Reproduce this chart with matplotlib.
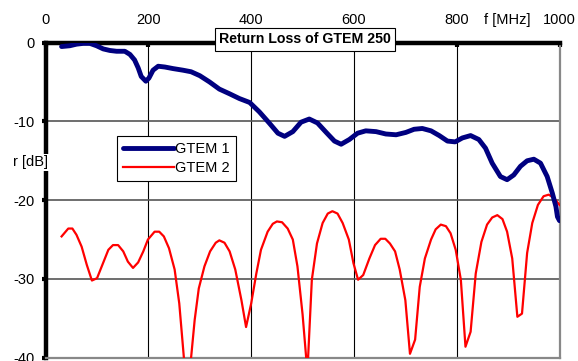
import matplotlib.pyplot as plt

plt.rcParams["font.family"] = ["Liberation Sans", "DejaVu Sans"]
plt.rcParams["axes.unicode_minus"] = False

# frequency [MHz] and return loss [dB]
f_gtem1 = [31, 47, 60, 73, 86, 99, 112, 125, 138, 154, 164, 173, 180, 186, 195,
           201, 209, 219, 232, 248, 267, 283, 300, 319, 338, 358, 377, 397, 416,
           435, 452, 465, 481, 497, 513, 529, 546, 562, 575, 591, 607, 623, 643,
           662, 682, 701, 717, 733, 750, 766, 782, 797, 811, 827, 843, 856, 869,
           885, 898, 911, 924, 937, 950, 963, 976, 986, 993, 996, 1000]
r_gtem1 = [-0.5, -0.4, -0.2, -0.1, -0.1, -0.4, -0.8, -1.0, -1.1, -1.1, -1.5,
           -2.2, -3.2, -4.3, -4.9, -4.5, -3.5, -3.0, -3.1, -3.3, -3.5, -3.7,
           -4.2, -5.0, -5.9, -6.5, -7.1, -7.6, -8.8, -10.2, -11.5, -11.9, -11.3,
           -10.1, -9.7, -10.2, -11.4, -12.5, -12.9, -12.3, -11.5, -11.2, -11.3,
           -11.6, -11.7, -11.4, -11.0, -10.9, -11.2, -11.8, -12.5, -12.6, -12.1,
           -11.8, -12.3, -13.4, -15.3, -17.0, -17.4, -16.8, -15.7, -15.0, -14.8,
           -15.3, -17.0, -19.1, -20.8, -22.1, -22.6]

f_gtem2 = [31, 44, 52, 60, 70, 80, 90, 100, 111, 122, 131, 141, 151, 160, 170,
           180, 190, 199, 212, 221, 230, 240, 251, 260, 269, 276, 283, 290, 298,
           309, 320, 331, 338, 348, 358, 369, 381, 390, 400, 410, 419, 432, 442,
           450, 460, 471, 481, 490, 500, 507, 510, 518, 528, 539, 549, 558, 568,
           578, 590, 599, 608, 618, 630, 641, 652, 661, 670, 680, 689, 700, 709,
           719, 728, 738, 750, 759, 769, 779, 788, 798, 808, 817, 827, 837, 848,
           859, 869, 879, 889, 898, 908, 918, 927, 937, 947, 958, 969, 979, 989,
           1000]
r_gtem2 = [-24.6, -23.6, -23.6, -24.4, -25.9, -28.2, -30.2, -29.9, -28.1, -26.3,
           -25.7, -25.7, -26.5, -27.8, -28.6, -27.9, -26.5, -25.0, -24.0, -24.0,
           -24.6, -26.1, -28.8, -33.1, -40.0, -41.5, -40.0, -35.2, -31.2, -28.4,
           -26.5, -25.4, -25.1, -25.4, -26.5, -28.8, -32.7, -36.1, -33.1, -29.3,
           -26.3, -24.0, -23.0, -22.7, -22.8, -23.6, -25.0, -28.4, -34.5, -40.0,
           -41.0, -30.1, -25.5, -22.9, -21.7, -21.4, -21.7, -22.9, -25.0, -28.0,
           -30.1, -29.5, -27.4, -25.7, -24.9, -24.9, -25.5, -26.5, -28.8, -32.7,
           -39.5, -37.7, -31.0, -27.4, -25.0, -23.7, -23.1, -23.3, -24.2, -26.3,
           -30.1, -38.6, -36.7, -29.3, -25.3, -23.1, -22.2, -21.9, -22.4, -24.0,
           -27.4, -34.8, -34.4, -26.7, -22.9, -20.6, -19.5, -19.3, -19.7, -20.6]

fig = plt.figure(figsize=(5.78, 3.61), dpi=100)
ax = fig.add_axes([0.079, 0.009, 0.889, 0.873])

ax.plot(f_gtem2, r_gtem2, color="red", lw=1.6, label="GTEM 2", zorder=3)
ax.plot(f_gtem1, r_gtem1, color="#000080", lw=3.5, label="GTEM 1", zorder=4,
        solid_joinstyle="round", solid_capstyle="round")

ax.set_xlim(0, 1000)
ax.set_ylim(-40, 0)
ax.set_xticks([0, 200, 400, 600, 800, 1000])
ax.set_yticks([0, -10, -20, -30, -40])
ax.xaxis.tick_top()
ax.tick_params(axis="x", direction="in", length=3, width=3, labelsize=10.5, pad=11)
ax.tick_params(axis="y", direction="out", length=3, width=3, labelsize=10.5, pad=5)

ax.grid(axis="x", color="black", lw=0.8)
ax.grid(axis="y", color="#555555", lw=1.2)
ax.set_axisbelow(True)

ax.spines["top"].set_linewidth(3.2)
ax.spines["left"].set_linewidth(3.2)
ax.spines["right"].set_color("#888888")
ax.spines["right"].set_linewidth(1.6)
ax.spines["bottom"].set_color("#888888")
ax.spines["bottom"].set_linewidth(1.6)

handles, labels = ax.get_legend_handles_labels()
leg = ax.legend(handles[::-1], labels[::-1], loc="upper left",
                bbox_to_anchor=(0.139, 0.704), fontsize=10.5, fancybox=False,
                framealpha=1, edgecolor="black", borderaxespad=0,
                handlelength=3.5, handletextpad=0.1, labelspacing=0.35,
                borderpad=0.4)
leg.get_frame().set_linewidth(0.8)

fig.text(0.878, 0.945, "f [MHz]", fontsize=10.5, ha="center", va="center")
fig.text(0.052, 0.55, "r [dB]", fontsize=10.5, ha="center", va="center",
         bbox=dict(facecolor="white", edgecolor="none", pad=1))
fig.text(0.5277, 0.8906, "Return Loss of GTEM 250", fontsize=10.2,
         fontweight="bold", ha="center", va="center", zorder=10,
         bbox=dict(boxstyle="square,pad=0.3", facecolor="white",
                   edgecolor="black", lw=0.8))

fig.savefig("out.png", dpi=100)
